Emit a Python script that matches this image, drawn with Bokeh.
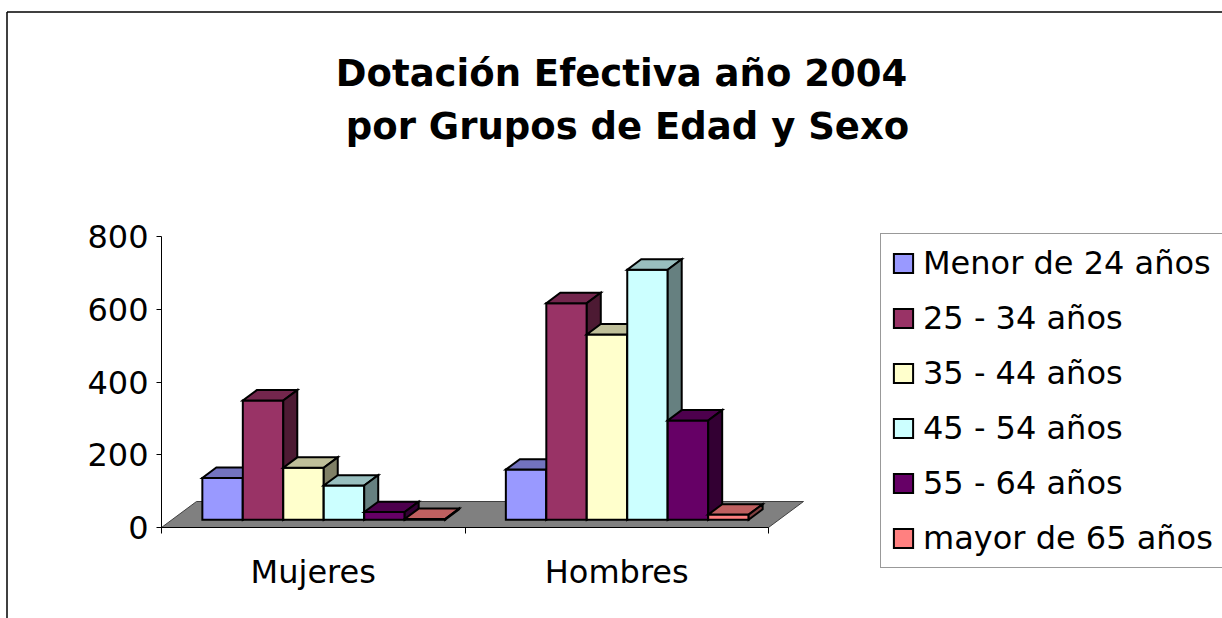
from bokeh.plotting import figure
from bokeh.models import Range1d, FixedTicker, Legend, LegendItem, ColumnDataSource
from bokeh.core.properties import value
from bokeh.embed import file_html
from bokeh.resources import INLINE

# ---------------- data ----------------
categories = ["Mujeres", "Hombres"]
series_names = ["Menor de 24 años", "25 - 34 años", "35 - 44 años",
                "45 - 54 años", "55 - 64 años", "mayor de 65 años"]
mujeres = [115, 328, 143, 94, 21, 2]
hombres = [138, 596, 510, 688, 273, 14]
y_ticks = [0, 200, 400, 600, 800]
title_lines = ["Dotación Efectiva año 2004", "por Grupos de Edad y Sexo"]

front_colors = ["#9999FF", "#993366", "#FFFFCC", "#CCFFFF", "#660066", "#FF8080"]
top_colors = ["#7373BF", "#73264D", "#BFBF99", "#99BFBF", "#4D004D", "#BF6060"]
side_colors = ["#4D4D80", "#4D1A33", "#808066", "#668080", "#330033", "#804040"]

# ---------------- layout (pixels, canvas = page) ----------------
W, H = 1222, 618
AXIS_X = 161               # pixel x of the value axis (category 0)
AXIS_Y = 527               # pixel y of value 0 / category axis
PX_PER_CAT = 303.5
PX_PER_VAL = 290.7 / 800.0

def px2x(px):
    return (px - AXIS_X) / PX_PER_CAT

def py2y(py):
    return (AXIS_Y - py) / PX_PER_VAL

def dx(px):
    return px / PX_PER_CAT

def dy(px):
    return px / PX_PER_VAL

# oblique 3-D projection of the floor depth
FLOOR_DX = dx(35)
FLOOR_DY = dy(26)
BAR_W = 1.0 / 7.5          # 6 bars + 150% gap
GAP = 0.75 * BAR_W
DEPTH_FRONT = 0.3
DEPTH_BAR = 0.4

p = figure(width=W, height=H,
           x_range=Range1d(px2x(0), px2x(W)), y_range=Range1d(py2y(H), py2y(0)),
           output_backend="svg", toolbar_location=None, title=None,
           min_border_left=0, min_border_right=0, min_border_top=0, min_border_bottom=0)
p.xgrid.visible = False
p.ygrid.visible = False
p.outline_line_color = None
p.background_fill_color = "white"
p.border_fill_color = "white"

# chart-area border (left and top edges; the rest is outside the window)
bx, by = px2x(6.5), py2y(11.5)
p.segment(x0=[bx, bx], y0=[py2y(H), by], x1=[bx, px2x(W)], y1=[by, by],
          line_color="black", line_width=1.5)

# floor
ncat = len(categories)
p.patch(x=[0, ncat, ncat + FLOOR_DX, FLOOR_DX], y=[0, 0, FLOOR_DY, FLOOR_DY],
        fill_color="#808080", line_color="#404040", line_width=1)

# bars (one renderer per series, drawn left to right)
renderers = []
data_by_cat = [mujeres, hombres]
ox = DEPTH_FRONT * FLOOR_DX
oy = DEPTH_FRONT * FLOOR_DY
ddx = DEPTH_BAR * FLOOR_DX
ddy = DEPTH_BAR * FLOOR_DY
for i, name in enumerate(series_names):
    xs, ys, fills = [], [], []
    for c, vals in enumerate(data_by_cat):
        v = vals[i]
        x0 = c + GAP + i * BAR_W + ox
        x1 = x0 + BAR_W
        y0 = oy
        y1 = oy + v
        xs.append([x0, x1, x1, x0]); ys.append([y0, y0, y1, y1]); fills.append(front_colors[i])
        xs.append([x0, x1, x1 + ddx, x0 + ddx]); ys.append([y1, y1, y1 + ddy, y1 + ddy]); fills.append(top_colors[i])
        xs.append([x1, x1 + ddx, x1 + ddx, x1]); ys.append([y0, y0 + ddy, y1 + ddy, y1]); fills.append(side_colors[i])
    src = ColumnDataSource(dict(xs=xs, ys=ys, fill=fills))
    r = p.patches(xs="xs", ys="ys", fill_color="fill", line_color="black",
                  line_width=2, line_join="miter", source=src)
    renderers.append(r)

# title
title_x_page = [621, 627]
title_base_page = [73, 126]
p.text(x=[px2x(v) for v in title_x_page], y=[py2y(v) for v in title_base_page],
       text=title_lines, text_font=value("DejaVu Sans"), text_font_style="bold",
       text_font_size="37px", text_align="center", text_baseline="alphabetic",
       text_color="black")

FONT = "DejaVu Sans"
# y axis (fixed at category 0)
ya = p.yaxis[0]
ya.fixed_location = 0
ya.ticker = FixedTicker(ticks=y_ticks, minor_ticks=[])
ya.bounds = (0, y_ticks[-1])
ya.major_label_text_font = FONT
ya.major_label_text_font_size = "32px"
ya.major_label_text_color = "black"
ya.major_tick_out = 5
ya.major_tick_in = 0
ya.minor_tick_out = 0
ya.minor_tick_in = 0
ya.major_label_standoff = 8
ya.axis_line_color = "black"
ya.major_tick_line_color = "black"

# x axis (fixed at value 0)
xa = p.xaxis[0]
xa.fixed_location = 0
xa.ticker = FixedTicker(ticks=[c + 0.5 for c in range(ncat)], minor_ticks=list(range(ncat + 1)))
xa.major_label_overrides = {c + 0.5: name for c, name in enumerate(categories)}
xa.bounds = (0, ncat)
xa.major_tick_line_color = None
xa.major_tick_out = 0
xa.major_tick_in = 0
xa.minor_tick_out = 6
xa.minor_tick_in = 0
xa.minor_tick_line_color = "black"
xa.axis_line_color = "black"
xa.major_label_text_font = FONT
xa.major_label_text_font_size = "32px"
xa.major_label_text_color = "black"
xa.major_label_standoff = 19

# legend
leg_left_page = 880
leg_bottom_page = 568
legend = Legend(
    items=[LegendItem(label=n, renderers=[r], index=0) for n, r in zip(series_names, renderers)],
    location=(leg_left_page, H - leg_bottom_page),
    glyph_width=24, glyph_height=24, label_height=38, label_width=310,
    spacing=17, padding=10, margin=0, label_standoff=8,
    label_text_font=FONT, label_text_font_size="32px", label_text_color="black",
    border_line_color="#333333", border_line_width=1,
    background_fill_color="white", background_fill_alpha=1.0,
)
p.add_layout(legend)

open("out.html", "w").write(file_html(p, INLINE))
